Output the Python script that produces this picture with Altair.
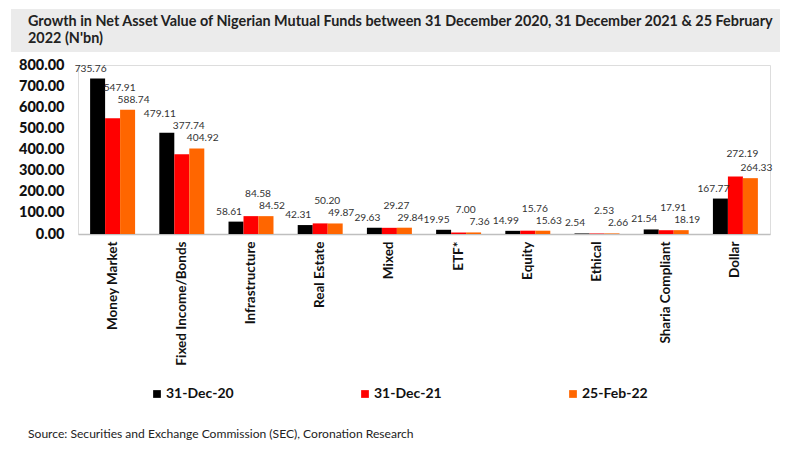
import altair as alt
import pandas as pd

categories = ["Money Market", "Fixed Income/Bonds", "Infrastructure", "Real Estate", "Mixed",
              "ETF*", "Equity", "Ethical", "Sharia Compliant", "Dollar"]
series = ["31-Dec-20", "31-Dec-21", "25-Feb-22"]
dec20 = [735.76, 479.11, 58.61, 42.31, 29.63, 19.95, 14.99, 2.54, 21.54, 167.77]
dec21 = [547.91, 377.74, 84.58, 50.20, 29.27, 7.00, 15.76, 2.53, 17.91, 272.19]
feb22 = [588.74, 404.92, 84.52, 49.87, 29.84, 7.36, 15.63, 2.66, 18.19, 264.33]
colors = ["#000000", "#FF0000", "#FF6600"]

title_lines = ["Growth in Net Asset Value of Nigerian Mutual Funds between 31 December 2020, 31 December 2021 & 25 February",
               "2022 (N'bn)"]
source_text = "Source: Securities and Exchange Commission (SEC), Coronation Research"

# label anchors: a simple staggering rule so data labels do not collide
STEP = 800 / 169 * 12  # about one text line, in data units
rows = []
for i, c in enumerate(categories):
    b, r, o = dec20[i], dec21[i], feb22[i]
    m = max(r, o)
    anchors = {
        "31-Dec-20": max(b, m + 2 * STEP) if b - m > STEP else b,
        "31-Dec-21": m,
        "25-Feb-22": o,
    }
    for s, v in zip(series, (b, r, o)):
        rows.append({"category": c, "series": s, "value": v, "label": f"{v:.2f}",
                     "anchor": anchors[s]})
df = pd.DataFrame(rows)

FONT = "Lato"

y_axis = alt.Axis(title=None, values=list(range(0, 801, 100)), format=".2f",
                  labelFont=FONT, labelFontWeight=900, labelFontSize=14.5,
                  labelColor="#111111", grid=False, ticks=False, domain=False,
                  labelPadding=14, labelOverlap=False)
y_scale = alt.Scale(domain=[0, 800])

x_enc = alt.X("category:N", sort=categories,
              scale=alt.Scale(paddingInner=0.35, paddingOuter=0.175),
              axis=alt.Axis(title=None, labelAngle=-90, labelFont=FONT, labelFontWeight="bold",
                            labelFontSize=13.5, labelColor="#111111", ticks=False,
                            domainColor="#BFBFBF", domainWidth=1.5, labelPadding=7))
xoff = alt.XOffset("series:N", sort=series, scale=alt.Scale(paddingInner=0, paddingOuter=0))

bars = alt.Chart(df).mark_bar().encode(
    x=x_enc, y=alt.Y("value:Q", scale=y_scale, axis=y_axis), xOffset=xoff,
    color=alt.Color("series:N", sort=series, scale=alt.Scale(domain=series, range=colors),
                    legend=alt.Legend(title=None, orient="none", legendX=72, legendY=322,
                                      direction="horizontal", columns=3, columnPadding=124,
                                      symbolType="square", symbolSize=60, symbolStrokeWidth=0,
                                      labelFont=FONT, labelFontWeight="bold", labelFontSize=14,
                                      labelColor="#111111", labelOffset=2)),
)

label_layers = []
offsets = {"31-Dec-20": (-7, -5), "31-Dec-21": (7, -17), "25-Feb-22": (6, -5)}
for s in series:
    dx, dy = offsets[s]
    label_layers.append(
        alt.Chart(df).transform_filter(alt.datum.series == s).mark_text(
            font=FONT, fontSize=10.2, color="#333333", dx=dx, dy=dy, baseline="bottom"
        ).encode(x=alt.X("category:N", sort=categories), xOffset=xoff,
                 y=alt.Y("anchor:Q", scale=y_scale, axis=y_axis), text="label:N")
    )

one = pd.DataFrame({"k": [0]})
box = alt.Chart(one).mark_rect(color="#EBEBEB").encode(
    x=alt.value(-67), x2=alt.value(702), y=alt.value(-56), y2=alt.value(-13))
t1 = alt.Chart(one).mark_text(align="left", baseline="alphabetic", font=FONT, fontWeight="bold",
                              fontSize=14.4, color="#222222").encode(
    x=alt.value(-50), y=alt.value(-39), text=alt.value(title_lines[0]))
t2 = alt.Chart(one).mark_text(align="left", baseline="alphabetic", font=FONT, fontWeight="bold",
                              fontSize=14.4, color="#222222").encode(
    x=alt.value(-50), y=alt.value(-22), text=alt.value(title_lines[1]))
src = alt.Chart(one).mark_text(align="left", baseline="middle", font=FONT, fontSize=12.1,
                               color="#222222").encode(
    x=alt.value(-50), y=alt.value(369), text=alt.value(source_text))

chart = alt.layer(box, t1, t2, bars, *label_layers, src).properties(
    width=692, height=169, padding={"left": 3, "top": 1, "right": 0, "bottom": 0}
).configure_view(stroke=None).configure(background="white")

chart.save("out.html", embed_options={"renderer": "svg", "actions": False})
